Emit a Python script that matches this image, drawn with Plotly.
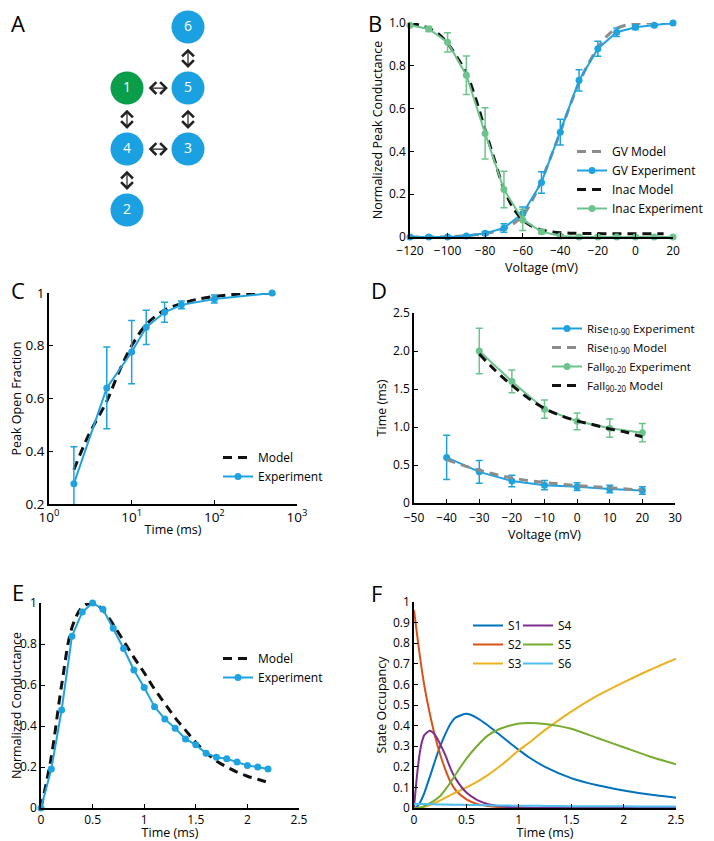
import plotly.graph_objects as go

# Page is 714x841; the browser body has an 8px margin, so the figure is 706x833
PAGE_W, PAGE_H = 714, 841
PAD = 8
W, H = PAGE_W - PAD, PAGE_H - PAD
FONT = "Open Sans"
BLUE = "#1fa3df"
GREEN = "#6cc48c"
GRAY = "#8c8c8c"
BLACK = "#111111"
NODE_BLUE = "#1ba1e2"
NODE_GREEN = "#0a9d4a"
F_COLORS = ["#0072BD", "#D95319", "#EDB120", "#7E2F8E", "#77AC30", "#4DBEEE"]

# ---------------- Panel A: state diagram ----------------
node_labels = ["1", "2", "3", "4", "5", "6"]
node_col = [0, 0, 1, 0, 1, 1]
node_row = [1, 3, 2, 2, 1, 0]
node_open = [True, False, False, False, False, False]
edges = [("1", "5"), ("6", "5"), ("1", "4"), ("5", "3"), ("4", "3"), ("4", "2")]

# ---------------- Panel B: GV and inactivation ----------------
b_volt = [-120, -110, -100, -90, -80, -70, -60, -50, -40, -30, -20, -10, 0, 10, 20]
gv_exp = [0.0, 0.0, 0.0, 0.005, 0.017, 0.042, 0.11, 0.255, 0.49, 0.732, 0.88, 0.957, 0.98, 0.99, 1.0]
gv_err = [0.005, 0.005, 0.005, 0.005, 0.008, 0.02, 0.03, 0.05, 0.06, 0.05, 0.035, 0.02, 0.01, 0.008, 0.005]
inac_exp = [0.99, 0.972, 0.91, 0.756, 0.484, 0.222, 0.08, 0.025, 0.005, 0.0, 0.0, 0.0, 0.0, 0.0, 0.0]
inac_err = [0.005, 0.012, 0.045, 0.09, 0.12, 0.085, 0.05, 0.01, 0.005, 0.003, 0.003, 0.003, 0.003, 0.003, 0.003]
gv_model_volt = [-120, -115, -110, -105, -100, -95, -90, -85, -80, -75, -70, -65, -60, -55, -50,
                 -45, -40, -35, -30, -25, -20, -15, -10, -5, 0, 5, 10, 15, 20]
gv_model = [0.0, 0.0, 0.0, 0.0, 0.001, 0.003, 0.006, 0.01, 0.016, 0.025, 0.038, 0.062, 0.10, 0.17, 0.265,
            0.375, 0.49, 0.61, 0.72, 0.81, 0.885, 0.94, 0.975, 0.99, 0.997, 1.0, 1.0, 1.0, 1.0]
inac_model_volt = [-120, -115, -110, -105, -100, -95, -90, -85, -80, -75, -70, -65, -60, -55, -50,
                   -45, -40, -35, -30, -25, -20, -15, -10, -5, 0, 5, 10, 15]
inac_model = [1.0, 0.99, 0.975, 0.95, 0.905, 0.84, 0.765, 0.645, 0.5, 0.36, 0.225, 0.135, 0.08, 0.05, 0.033,
              0.025, 0.02, 0.018, 0.017, 0.016, 0.016, 0.015, 0.015, 0.015, 0.015, 0.015, 0.015, 0.015]
b_yticks = [0, 0.2, 0.4, 0.6, 0.8, 1.0]
b_yticktext = ["0", "0.2", "0.4", "0.6", "0.8", "1.0"]
b_xticks = [-120, -100, -80, -60, -40, -20, 0, 20]

# ---------------- Panel C: recovery ----------------
c_time = [2, 5, 10, 15, 25, 40, 100, 500]
c_exp = [0.277, 0.64, 0.776, 0.87, 0.927, 0.955, 0.977, 1.0]
c_err = [0.14, 0.155, 0.12, 0.065, 0.038, 0.015, 0.015, 0.005]
c_model_time = [2, 3, 5, 7, 10, 15, 25, 40, 60, 100, 200, 500]
c_model = [0.33, 0.46, 0.59, 0.70, 0.80, 0.88, 0.935, 0.96, 0.975, 0.987, 0.996, 1.0]
c_xticks = [1, 10, 100, 1000]
c_xticktext = ["10<sup>0</sup>", "10<sup>1</sup>", "10<sup>2</sup>", "10<sup>3</sup>"]
c_yticks = [0.2, 0.4, 0.6, 0.8, 1]

# ---------------- Panel D: kinetics ----------------
rise_volt = [-40, -30, -20, -10, 0, 10, 20]
rise_exp = [0.6, 0.41, 0.29, 0.235, 0.215, 0.185, 0.165]
rise_err = [0.29, 0.15, 0.075, 0.06, 0.05, 0.05, 0.05]
rise_model = [0.57, 0.43, 0.33, 0.27, 0.23, 0.2, 0.17]
fall_volt = [-30, -20, -10, 0, 10, 20]
fall_exp = [2.0, 1.6, 1.235, 1.075, 0.985, 0.925]
fall_err = [0.3, 0.15, 0.12, 0.11, 0.12, 0.12]
fall_model_volt = [-30, -25, -20, -15, -10, -5, 0, 5, 10, 15, 20]
fall_model = [1.96, 1.74, 1.55, 1.38, 1.245, 1.15, 1.08, 1.03, 0.975, 0.93, 0.87]
d_yticks = [0, 0.5, 1.0, 1.5, 2.0, 2.5]
d_yticktext = ["0", "0.5", "1.0", "1.5", "2.0", "2.5"]
d_xticks = [-50, -40, -30, -20, -10, 0, 10, 20, 30]

# ---------------- Panel E: conductance time course ----------------
e_time = [0, 0.1, 0.2, 0.3, 0.4, 0.5, 0.6, 0.7, 0.8, 0.9, 1.0, 1.1, 1.2, 1.3, 1.4, 1.5,
          1.6, 1.7, 1.8, 1.9, 2.0, 2.1, 2.2]
e_exp = [0.0, 0.19, 0.478, 0.838, 0.956, 1.0, 0.97, 0.877, 0.778, 0.673, 0.588, 0.494, 0.434,
         0.389, 0.337, 0.308, 0.267, 0.248, 0.24, 0.224, 0.207, 0.2, 0.19]
e_model = [0.0, 0.25, 0.6, 0.88, 0.98, 1.0, 0.965, 0.895, 0.815, 0.735, 0.66, 0.58, 0.51,
           0.44, 0.38, 0.32, 0.27, 0.23, 0.2, 0.175, 0.155, 0.14, 0.125]
e_xticks = [0, 0.5, 1, 1.5, 2, 2.5]
e_yticks = [0, 0.2, 0.4, 0.6, 0.8, 1]

# ---------------- Panel F: state occupancy ----------------
f_time = [0, 0.025, 0.05, 0.075, 0.1, 0.15, 0.2, 0.25, 0.3, 0.35, 0.4, 0.5, 0.6, 0.7, 0.8, 0.9,
          1.0, 1.1, 1.25, 1.5, 1.75, 2.0, 2.25, 2.5]
s1 = [0.0, 0.005, 0.02, 0.045, 0.075, 0.15, 0.228, 0.3, 0.36, 0.41, 0.44, 0.457, 0.438, 0.403, 0.363, 0.322,
      0.282, 0.245, 0.2, 0.145, 0.11, 0.085, 0.065, 0.05]
s2 = [0.96, 0.86, 0.76, 0.67, 0.59, 0.46, 0.35, 0.26, 0.185, 0.125, 0.085, 0.042, 0.02, 0.01, 0.005, 0.003,
      0.001, 0.0, 0.0, 0.0, 0.0, 0.0, 0.0, 0.0]
s3 = [0.0, 0.0, 0.001, 0.003, 0.006, 0.014, 0.025, 0.037, 0.05, 0.063, 0.076, 0.1, 0.127, 0.158, 0.195, 0.236,
      0.28, 0.318, 0.378, 0.468, 0.545, 0.61, 0.67, 0.725]
s4 = [0.0, 0.14, 0.25, 0.32, 0.355, 0.375, 0.355, 0.31, 0.255, 0.19, 0.14, 0.075, 0.04, 0.02, 0.01, 0.005,
      0.003, 0.001, 0.0, 0.0, 0.0, 0.0, 0.0, 0.0]
s5 = [0.0, 0.0, 0.001, 0.004, 0.01, 0.022, 0.038, 0.058, 0.09, 0.125, 0.165, 0.24, 0.3, 0.35, 0.38, 0.398,
      0.41, 0.413, 0.408, 0.385, 0.34, 0.295, 0.25, 0.212]
s6 = [0.02, 0.02, 0.019, 0.019, 0.019, 0.018, 0.018, 0.017, 0.017, 0.016, 0.016, 0.015, 0.014, 0.013, 0.012, 0.012,
      0.011, 0.011, 0.01, 0.009, 0.008, 0.008, 0.007, 0.007]
f_names = ["S1", "S2", "S3", "S4", "S5", "S6"]
f_yticks = [0, 0.1, 0.2, 0.3, 0.4, 0.5, 0.6, 0.7, 0.8, 0.9, 1]
f_xticks = [0, 0.5, 1, 1.5, 2, 2.5]


# helpers: convert page pixel positions into paper fractions of the figure
def px_x(p):
    return (p - PAD) / W


def px_y(p):
    return 1 - (p - PAD) / H


def dx(a, b):
    return [px_x(a), px_x(b)]


def dy(top, bottom):
    return [px_y(bottom), px_y(top)]


def axis(domain, anchor, fsize=12, **kw):
    d = dict(domain=domain, anchor=anchor, showline=True, linecolor="black", linewidth=1.6,
             ticks="inside", ticklen=4, tickwidth=1.2, tickcolor="black", showgrid=False,
             zeroline=False, automargin=False,
             tickfont=dict(size=fsize, color="black", family=FONT),
             title_font=dict(size=12.5, color="black", family=FONT))
    d.update(kw)
    return d


fig = go.Figure()

exp_line = dict(width=2)
exp_marker = dict(size=7)
err_style = dict(type="data", thickness=1.5, width=3.5)
DASH = "9px,6px"

# ---- Panel A nodes ----
idx = {lab: i for i, lab in enumerate(node_labels)}
fig.add_trace(go.Scatter(
    x=node_col, y=node_row, mode="markers+text", text=node_labels,
    textfont=dict(color="white", size=14, family=FONT), textposition="middle center",
    marker=dict(size=33, color=[NODE_GREEN if o else NODE_BLUE for o in node_open], line=dict(width=0)),
    xaxis="x6", yaxis="y6", showlegend=False, hoverinfo="skip", cliponaxis=False))

# ---- Panel B traces ----
fig.add_trace(go.Scatter(x=gv_model_volt, y=gv_model, mode="lines", name="GV Model",
                         line=dict(color=GRAY, width=3, dash=DASH, shape="spline"),
                         xaxis="x", yaxis="y", legend="legend"))
fig.add_trace(go.Scatter(x=b_volt, y=gv_exp, mode="lines+markers", name="GV Experiment",
                         line=dict(color=BLUE, **exp_line), marker=dict(color=BLUE, **exp_marker),
                         error_y=dict(array=gv_err, color=BLUE, **err_style), cliponaxis=False,
                         xaxis="x", yaxis="y", legend="legend"))
fig.add_trace(go.Scatter(x=inac_model_volt, y=inac_model, mode="lines", name="Inac Model",
                         line=dict(color=BLACK, width=3, dash=DASH, shape="spline"),
                         xaxis="x", yaxis="y", legend="legend"))
fig.add_trace(go.Scatter(x=b_volt, y=inac_exp, mode="lines+markers", name="Inac Experiment",
                         line=dict(color=GREEN, **exp_line), marker=dict(color=GREEN, **exp_marker),
                         error_y=dict(array=inac_err, color=GREEN, **err_style), cliponaxis=False,
                         xaxis="x", yaxis="y", legend="legend"))

# ---- Panel C traces ----
fig.add_trace(go.Scatter(x=c_model_time, y=c_model, mode="lines", name="Model",
                         line=dict(color=BLACK, width=3, dash=DASH, shape="spline"),
                         xaxis="x2", yaxis="y2", legend="legend2"))
fig.add_trace(go.Scatter(x=c_time, y=c_exp, mode="lines+markers", name="Experiment",
                         line=dict(color=BLUE, **exp_line), marker=dict(color=BLUE, **exp_marker),
                         error_y=dict(array=c_err, color=BLUE, **err_style), cliponaxis=False,
                         xaxis="x2", yaxis="y2", legend="legend2"))

# ---- Panel D traces ----
fig.add_trace(go.Scatter(x=rise_volt, y=rise_exp, mode="lines+markers", name="Rise<sub>10-90</sub> Experiment",
                         line=dict(color=BLUE, **exp_line), marker=dict(color=BLUE, **exp_marker),
                         error_y=dict(array=rise_err, color=BLUE, **err_style),
                         xaxis="x3", yaxis="y3", legend="legend3"))
fig.add_trace(go.Scatter(x=rise_volt, y=rise_model, mode="lines", name="Rise<sub>10-90</sub> Model",
                         line=dict(color=GRAY, width=3, dash=DASH, shape="spline"),
                         xaxis="x3", yaxis="y3", legend="legend3"))
fig.add_trace(go.Scatter(x=fall_volt, y=fall_exp, mode="lines+markers", name="Fall<sub>90-20</sub> Experiment",
                         line=dict(color=GREEN, **exp_line), marker=dict(color=GREEN, **exp_marker),
                         error_y=dict(array=fall_err, color=GREEN, **err_style),
                         xaxis="x3", yaxis="y3", legend="legend3"))
fig.add_trace(go.Scatter(x=fall_model_volt, y=fall_model, mode="lines", name="Fall<sub>90-20</sub> Model",
                         line=dict(color=BLACK, width=3, dash=DASH, shape="spline"),
                         xaxis="x3", yaxis="y3", legend="legend3"))

# ---- Panel E traces ----
fig.add_trace(go.Scatter(x=e_time, y=e_model, mode="lines", name="Model",
                         line=dict(color=BLACK, width=3, dash=DASH, shape="spline"),
                         xaxis="x4", yaxis="y4", legend="legend4"))
fig.add_trace(go.Scatter(x=e_time, y=e_exp, mode="lines+markers", name="Experiment",
                         line=dict(color=BLUE, **exp_line), marker=dict(color=BLUE, **exp_marker),
                         cliponaxis=False, xaxis="x4", yaxis="y4", legend="legend4"))

# ---- Panel F traces ----
for i, (nm, ys) in enumerate(zip(f_names, [s1, s2, s3, s4, s5, s6])):
    fig.add_trace(go.Scatter(x=f_time, y=ys, mode="lines", name=nm,
                             line=dict(color=F_COLORS[i], width=2, shape="spline", smoothing=0.6),
                             xaxis="x5", yaxis="y5", legend="legend5" if i < 3 else "legend6"))

# ---- Panel A arrows (double-headed, open chevrons) ----
annotations = []
for a, b in edges:
    ia, ib = idx[a], idx[b]
    xa, ya, xb, yb = node_col[ia], node_row[ia], node_col[ib], node_row[ib]
    annotations.append(dict(
        x=xa + 0.67 * (xb - xa), y=ya + 0.67 * (yb - ya),
        ax=xa + 0.33 * (xb - xa), ay=ya + 0.33 * (yb - ya),
        xref="x6", yref="y6", axref="x6", ayref="y6", text="", showarrow=True,
        arrowside="end+start", arrowhead=4, startarrowhead=4,
        arrowsize=1.9, startarrowsize=1.9, arrowwidth=1.2, arrowcolor="#222222",
        standoff=0, startstandoff=0))

# ---- Panel letters (clamped inside the figure so no glyph box is cut) ----
letters = [("A", 10, 20), ("B", 375, 13), ("C", 8, 290), ("D", 379, 290), ("E", 9, 592), ("F", 376, 593)]
for t, px, py in letters:
    annotations.append(dict(x=px_x(max(px, PAD + 10)), y=px_y(max(py, PAD + 15)), xref="paper", yref="paper",
                            text=t, showarrow=False, font=dict(size=22, color="black", family=FONT),
                            xanchor="center", yanchor="middle", borderpad=0))

leg_common = dict(bgcolor="rgba(0,0,0,0)", borderwidth=0, font=dict(size=12, color="black", family=FONT),
                  xanchor="left", yanchor="top", tracegroupgap=0, itemwidth=30)
leg_small = dict(leg_common, font=dict(size=11.5, color="black", family=FONT))

fig.update_layout(
    template="none",
    width=W, height=H, margin=dict(l=0, r=0, t=0, b=0, autoexpand=False),
    paper_bgcolor="white", plot_bgcolor="white",
    font=dict(family=FONT, color="black"),
    xaxis=axis(dx(410, 673), "y", range=[-120, 20], tickvals=b_xticks, ticklabelstandoff=2,
               title=dict(text="Voltage (mV)", standoff=0)),
    yaxis=axis(dy(23, 237), "x", range=[0, 1], tickvals=b_yticks, ticktext=b_yticktext,
               title=dict(text="Normalized Peak Conductance", standoff=4)),
    xaxis2=axis(dx(49, 297), "y2", fsize=13.5, type="log", range=[0, 3], tickvals=c_xticks,
                ticktext=c_xticktext, title=dict(text="Time (ms)", standoff=0)),
    yaxis2=axis(dy(293, 504), "x2", fsize=13.5, range=[0.2, 1], tickvals=c_yticks,
                title=dict(text="Peak Open Fraction", standoff=5)),
    xaxis3=axis(dx(414, 675), "y3", range=[-50, 30], tickvals=d_xticks, ticklabelstandoff=3,
                title=dict(text="Voltage (mV)", standoff=2)),
    yaxis3=axis(dy(313, 503), "x3", range=[0, 2.5], tickvals=d_yticks, ticktext=d_yticktext,
                title=dict(text="Time (ms)", standoff=4)),
    xaxis4=axis(dx(41, 299), "y4", range=[0, 2.5], tickvals=e_xticks,
                title=dict(text="Time (ms)", standoff=0)),
    yaxis4=axis(dy(603, 808), "x4", range=[0, 1], tickvals=e_yticks,
                title=dict(text="Normalized Conductance", standoff=0)),
    xaxis5=axis(dx(414, 676), "y5", range=[0, 2.5], tickvals=f_xticks,
                title=dict(text="Time (ms)", standoff=0)),
    yaxis5=axis(dy(602, 808), "x5", range=[0, 1], tickvals=f_yticks,
                title=dict(text="State Occupancy", standoff=4)),
    xaxis6=dict(domain=dx(66, 249), anchor="y6", range=[-1, 2], visible=False, fixedrange=True),
    yaxis6=dict(domain=dy(8, 240), anchor="x6", range=[3.49, -0.312], visible=False, fixedrange=True),
    legend=dict(x=px_x(572), y=px_y(137), **leg_common),
    legend2=dict(x=px_x(218), y=px_y(443), **leg_common),
    legend3=dict(x=px_x(547), y=px_y(314), **leg_small),
    legend4=dict(x=px_x(218), y=px_y(644), **leg_common),
    legend5=dict(x=px_x(468), y=px_y(611), **leg_common),
    legend6=dict(x=px_x(518), y=px_y(611), **leg_common),
    annotations=annotations,
    showlegend=True,
)

fig.write_html("out.html")
